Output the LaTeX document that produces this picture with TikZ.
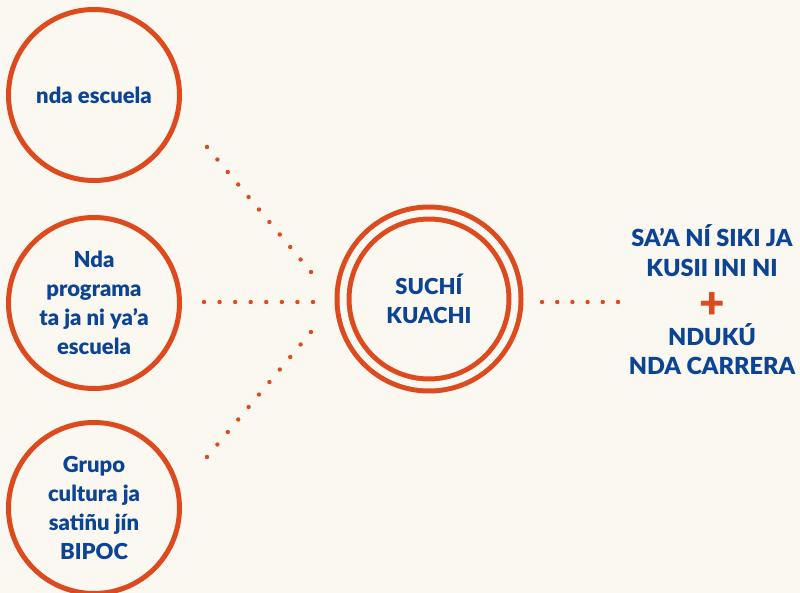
\documentclass[tikz,border=0pt]{standalone}
\usepackage{fontspec}
\setmainfont{Lato}[BoldFont={Lato Black}]
\usetikzlibrary{positioning}
\definecolor{naranja}{RGB}{221,74,30}
\definecolor{azul}{RGB}{12,68,148}
\definecolor{fondo}{RGB}{251,248,242}

\begin{document}
\begin{tikzpicture}[x=1pt,y=-1pt,
    fuente/.style={circle,draw=naranja,line width=5pt,minimum size=171pt,inner sep=0pt,
      align=center,text=azul,font=\bfseries\fontsize{22}{29}\selectfont},
    centro/.style={circle,draw=naranja,line width=5pt,double=fondo,double distance=7pt,
      minimum size=172pt,align=center,text=azul,font=\bfseries\fontsize{22}{29}\selectfont},
    meta/.style={align=center,text=azul,inner sep=0pt,font=\bfseries\fontsize{23.5}{29.5}\selectfont},
    puntos/.style={draw=naranja,line width=4.4pt,line cap=round,dash pattern=on 0pt off #1}]
  \fill[fondo] (0,0) rectangle (800,593);
  \useasboundingbox (0,0) rectangle (800,593);
  % circulos de la izquierda
  \node [fuente] (escuela) at (94,95) {nda escuela};
  \node [fuente] (programa) at (94,303) {Nda\\programa\\ta ja ni ya’a\\escuela};
  \node [fuente] (grupo) at (94,508) {Grupo\\cultura ja\\satiñu jín\\BIPOC};
  % circulo del centro
  \node [centro] (suchi) at (429,299) {SUCHÍ\\KUACHI};
  % resultado
  \node [text=naranja,inner sep=0pt,font=\bfseries\fontsize{44}{44}\selectfont] (mas) at (712,306) {+};
  \node [meta,above=16pt of mas] (saa) {SA’A NÍ SIKI JA\\KUSII INI NI};
  \node [meta,below=4pt of mas] (nduku) {NDUKÚ\\NDA CARRERA};
  % lineas de puntos
  \coordinate (p1a) at (207,147);
  \coordinate (p1b) at (311,272);
  \coordinate (p2a) at (204,302);
  \coordinate (p2b) at (313,302);
  \coordinate (p3a) at (207,457);
  \coordinate (p3b) at (311,332);
  \coordinate (p4a) at (542,302);
  \coordinate (p4b) at (618,302);
  \draw [puntos=16.26pt] (p1a) -- (p1b);
  \draw [puntos=15.57pt] (p2a) -- (p2b);
  \draw [puntos=16.26pt] (p3a) -- (p3b);
  \draw [puntos=15.2pt] (p4a) -- (p4b);
\end{tikzpicture}
\end{document}
